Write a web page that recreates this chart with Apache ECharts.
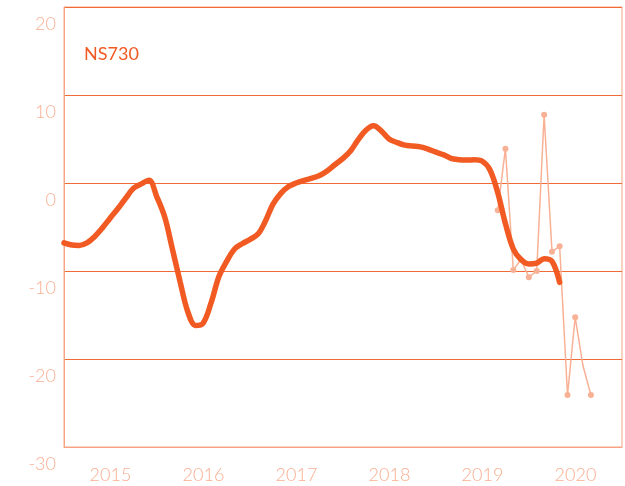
<!DOCTYPE html>
<html>
<head>
<meta charset="utf-8">
<script src="https://cdn.jsdelivr.net/npm/echarts@6/dist/echarts.min.js"></script>
<style>
  html, body { margin: 0; padding: 0; background: #fff; }
  #chart { width: 625px; height: 486px; }
</style>
</head>
<body>
<div id="chart"></div>
<script>
// year labels (centred in each year band)
const years = ['2015', '2016', '2017', '2018', '2019', '2020'];

// NS730 trend, monthly from 2015-01 to 2020-05
const trendStart = [2015, 0];
const trendValues = [
  -6.8, -7.05, -7.1, -6.8, -6.1, -5.1, -4.0, -2.9, -1.7, -0.6, -0.1, 0.3,
  -1.6, -3.9, -7.4, -11.2, -14.6, -16.2, -15.9, -13.6, -10.6, -8.9, -7.5, -6.9,
  -6.4, -5.8, -4.4, -2.4, -1.2, -0.4, 0.0, 0.3, 0.55, 0.85, 1.4, 2.1,
  2.8, 3.7, 4.9, 6.0, 6.5, 5.9, 5.0, 4.6, 4.3, 4.2, 4.1, 3.85,
  3.5, 3.2, 2.8, 2.65, 2.6, 2.65, 2.5, 1.5, -1.1, -4.6, -7.5, -8.7,
  -9.2, -9.1, -8.6, -8.9, -11.3
];

// monthly readings, 2019-09 to 2020-09
const monthlyStart = [2019, 8];
const monthlyValues = [-3.1, 3.9, -9.9, -8.7, -10.7, -10.0, 7.75, -7.8, -7.2, -24.1, -15.25, -20.8, -24.1];
const monthlyNoDot = [11];

function toSeries(start, values) {
  return values.map((v, i) => {
    const d = new Date(Date.UTC(start[0], start[1] + i, 1));
    return [d.getTime(), v];
  });
}

const chart = echarts.init(document.getElementById('chart'));
const labelColor = '#f9ae91';
const font = 'Lato';

const option = {
  animation: false,
  title: {
    text: 'NS730',
    left: 79,
    top: 40,
    textStyle: { color: '#f15a24', fontSize: 18, fontWeight: 'normal', fontFamily: font }
  },
  grid: {
    left: 64, right: 3, top: 7, bottom: 39,
    show: true, borderColor: '#f7a384', borderWidth: 1
  },
  xAxis: [
    {
      type: 'time',
      min: Date.UTC(2015, 0, 1),
      max: Date.UTC(2021, 0, 1),
      axisLine: { show: false },
      axisTick: { show: false },
      axisLabel: { show: false },
      splitLine: { show: false }
    },
    {
      type: 'category',
      data: years,
      position: 'bottom',
      boundaryGap: true,
      axisLine: { show: true, lineStyle: { color: '#f7a384' } },
      axisTick: { show: false },
      splitLine: { show: false },
      axisLabel: { color: labelColor, fontSize: 18, fontFamily: font, fontWeight: 300, margin: 19 }
    }
  ],
  yAxis: {
    type: 'value',
    min: -30, max: 20, interval: 10,
    axisLine: { show: true, lineStyle: { color: '#f7a384' } },
    axisTick: { show: false },
    splitLine: { show: true, lineStyle: { color: '#f26a35', width: 1 } },
    axisLabel: {
      color: labelColor, fontSize: 18, fontFamily: font, fontWeight: 300,
      margin: 8, verticalAlign: 'top', lineHeight: 34
    }
  },
  series: [
    {
      name: 'monthly',
      type: 'line',
      xAxisIndex: 0,
      data: toSeries(monthlyStart, monthlyValues).map((p, i) =>
        monthlyNoDot.includes(i) ? { value: p, symbol: 'none' } : p),
      symbol: 'circle',
      symbolSize: 6,
      showAllSymbol: true,
      lineStyle: { color: '#f9b195', width: 1.5 },
      itemStyle: { color: '#f9b195' },
      z: 2
    },
    {
      name: 'NS730',
      type: 'line',
      xAxisIndex: 0,
      data: toSeries(trendStart, trendValues),
      smooth: 0.35,
      showSymbol: false,
      lineStyle: { color: '#f15a22', width: 5.5, cap: 'round' },
      z: 3
    }
  ]
};

chart.setOption(option);
</script>
</body>
</html>
